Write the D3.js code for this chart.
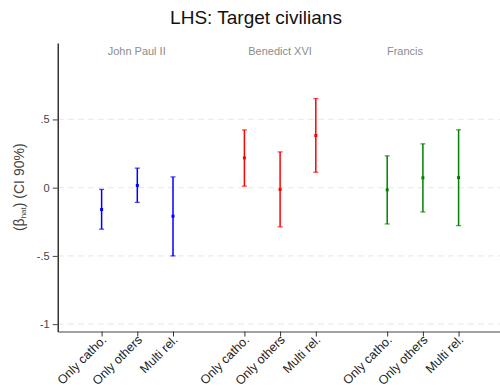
<!DOCTYPE html>
<html><head><meta charset="utf-8">
<script src="https://cdn.jsdelivr.net/npm/d3@7"></script>
<style>body{margin:0;background:#fff;} text{font-family:"Liberation Sans",Arial,sans-serif;}</style>
</head><body>
<svg id="c" width="500" height="391"></svg>
<script>
const categories = ["Only catho.","Only others","Multi rel."];
const groups = ["John Paul II","Benedict XVI","Francis"];
const groupColors = ["#0000ff","#ff0000","#008000"];
const positions = [1,2,3,5,6,7,9,10,11];
const estimates = [-0.16, 0.016, -0.209, 0.218, -0.013, 0.382, -0.016, 0.072, 0.074];
const lower = [-0.304, -0.108, -0.5, 0.011, -0.287, 0.113, -0.266, -0.178, -0.278];
const upper = [-0.013, 0.143, 0.079, 0.423, 0.262, 0.653, 0.233, 0.321, 0.424];
const yTicks = [0.5, 0, -0.5, -1];
const yTickLabels = [".5","0","-.5","-1"];

const svg = d3.select("#c");
const L = 57.7, R = 500, T = 43, B = 331.5;
const x = d3.scaleLinear().domain([-0.23, 12.16]).range([L, R]);
const y = d3.scaleLinear().domain([-1.054, 1.06]).range([B, T]);

// title
svg.append("text").attr("x", 256).attr("y", 24).attr("text-anchor","middle")
  .attr("font-size", 19).attr("fill","#111").text("LHS: Target civilians");

// grid
svg.append("g").selectAll("line").data(yTicks).join("line")
  .attr("x1", L).attr("x2", R).attr("y1", d=>y(d)).attr("y2", d=>y(d))
  .attr("stroke","#ececec").attr("stroke-width",1.3).attr("stroke-dasharray","6,4");

// y axis
const ya = d3.axisLeft(y).tickValues(yTicks).tickFormat((d,i)=>yTickLabels[i]).tickSize(5).tickSizeOuter(0);
const gy = svg.append("g").attr("transform",`translate(${L},0)`).call(ya);
gy.select(".domain").attr("stroke","#000").attr("stroke-width",1.2);
gy.selectAll(".tick line").attr("stroke","#444");
gy.selectAll(".tick text").attr("font-size",11).attr("fill","#444").attr("font-family","Liberation Sans, Arial, sans-serif");

// x axis
const xa = d3.axisBottom(x).tickValues(positions).tickFormat((d,i)=>categories[i%3]).tickSize(5).tickSizeOuter(0);
const gx = svg.append("g").attr("transform",`translate(0,${B})`).call(xa);
gx.select(".domain").attr("stroke","#444").attr("stroke-width",1.2);
gx.selectAll(".tick line").attr("stroke","#333");
gx.selectAll(".tick text").attr("font-size",12.5).attr("fill","#222")
  .attr("font-family","Liberation Sans, Arial, sans-serif")
  .attr("text-anchor","end").attr("dy",0).attr("y",0)
  .attr("transform","translate(5,9) rotate(-45)");

// group labels
const glx = [136.7, 280, 405];
svg.append("g").selectAll("text").data(groups).join("text")
  .attr("x",(d,i)=>glx[i]).attr("y",55).attr("text-anchor","middle")
  .attr("font-size",11).attr("fill","#8c8c8c").text(d=>d);

// y label
const yl = svg.append("text").attr("transform",`translate(24,${(T+B)/2}) rotate(-90)`)
  .attr("text-anchor","middle").attr("font-size",14).attr("fill","#444");
yl.append("tspan").text("(β");
yl.append("tspan").attr("font-size",8).attr("dy",2).text("hat");
yl.append("tspan").attr("dy",-2).text(") (CI 90%)");

// error bars
const data = positions.map((p,i)=>({p, e:estimates[i], lo:lower[i], hi:upper[i], c:groupColors[Math.floor(i/3)]}));
const eb = svg.append("g").selectAll("g").data(data).join("g");
eb.append("line").attr("x1",d=>x(d.p)).attr("x2",d=>x(d.p)).attr("y1",d=>y(d.lo)).attr("y2",d=>y(d.hi))
  .attr("stroke",d=>d.c).attr("stroke-width",1.5);
eb.append("line").attr("x1",d=>x(d.p)-2.5).attr("x2",d=>x(d.p)+2.5).attr("y1",d=>y(d.lo)).attr("y2",d=>y(d.lo))
  .attr("stroke",d=>d.c).attr("stroke-width",1.3).attr("stroke-opacity",0.7);
eb.append("line").attr("x1",d=>x(d.p)-2.5).attr("x2",d=>x(d.p)+2.5).attr("y1",d=>y(d.hi)).attr("y2",d=>y(d.hi))
  .attr("stroke",d=>d.c).attr("stroke-width",1.3).attr("stroke-opacity",0.7);
eb.append("rect").attr("x",d=>x(d.p)-1.5).attr("y",d=>y(d.e)-1.5).attr("width",3).attr("height",3)
  .attr("fill",d=>d.c);
</script>
</body></html>
